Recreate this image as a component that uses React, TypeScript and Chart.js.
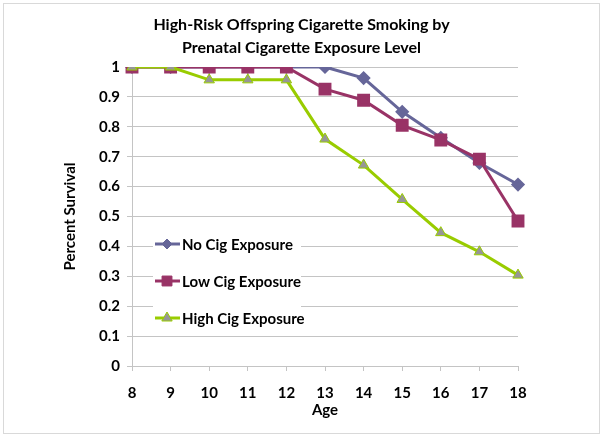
import React, { useEffect, useRef } from 'react';
import { Chart, registerables } from 'chart.js';

Chart.register(...registerables);

const ages = ['8', '9', '10', '11', '12', '13', '14', '15', '16', '17', '18'];
const noCig = [1, 1, 1, 1, 1, 1, 0.963, 0.85, 0.763, 0.679, 0.607];
const lowCig = [1, 1, 1, 1, 1, 0.926, 0.889, 0.805, 0.756, 0.692, 0.485];
const highCig = [1, 1, 0.957, 0.957, 0.957, 0.759, 0.672, 0.557, 0.446, 0.382, 0.304];
const seriesNames = ['No Cig Exposure', 'Low Cig Exposure', 'High Cig Exposure'];
const titleLines = ['High-Risk Offspring Cigarette Smoking by', 'Prenatal Cigarette Exposure Level'];
const xTitle = 'Age';
const yTitle = 'Percent Survival';

const FONT = 'Lato, "Open Sans", sans-serif';
const BLUE = '#666699';
const PLUM = '#993366';
const LIME = '#99CC00';
const TRI_FILL = '#969696';
const GRID = '#C4C4C4';

function drawMarker(ctx: CanvasRenderingContext2D, kind: string, x: number, y: number, r: number, fill: string, stroke: string) {
  ctx.save();
  ctx.beginPath();
  if (kind === 'rectRot') {
    ctx.moveTo(x, y - r); ctx.lineTo(x + r, y); ctx.lineTo(x, y + r); ctx.lineTo(x - r, y); ctx.closePath();
  } else if (kind === 'rect') {
    const s = r * Math.SQRT1_2;
    ctx.rect(x - s, y - s, 2 * s, 2 * s);
  } else {
    const h = r * 1.5;
    const w = r * Math.sqrt(3) / 2;
    ctx.moveTo(x, y - h * 2 / 3); ctx.lineTo(x + w, y + h / 3); ctx.lineTo(x - w, y + h / 3); ctx.closePath();
  }
  ctx.fillStyle = fill; ctx.fill();
  ctx.lineWidth = 1; ctx.strokeStyle = stroke; ctx.stroke();
  ctx.restore();
}

const framePlugin = {
  id: 'frame',
  beforeDraw(chart: any) {
    const ctx = chart.ctx as CanvasRenderingContext2D;
    ctx.save();
    ctx.fillStyle = '#ffffff';
    ctx.fillRect(0, 0, chart.width, chart.height);
    ctx.strokeStyle = '#D9D9D9';
    ctx.lineWidth = 1;
    ctx.strokeRect(3.5, 3.5, chart.width - 7, chart.height - 7);
    ctx.fillStyle = '#000';
    ctx.font = `bold 16px ${FONT}`;
    ctx.textAlign = 'center';
    ctx.textBaseline = 'middle';
    titleLines.forEach((t, i) => ctx.fillText(t, chart.width / 2, 25 + i * 23));
    ctx.restore();
  },
};

const legendPlugin = {
  id: 'customLegend',
  afterDatasetsDraw(chart: any) {
    const ctx = chart.ctx as CanvasRenderingContext2D;
    const ds = chart.data.datasets;
    ctx.save();
    ctx.fillStyle = '#ffffff';
    ctx.fillRect(153, 234, 148, 94);
    ctx.font = `bold 15px ${FONT}`;
    ctx.textAlign = 'left';
    ctx.textBaseline = 'middle';
    ds.forEach((d: any, i: number) => {
      const y = 244 + i * 37;
      ctx.strokeStyle = d.borderColor;
      ctx.lineWidth = 3;
      ctx.beginPath();
      ctx.moveTo(155, y);
      ctx.lineTo(180, y);
      ctx.stroke();
      drawMarker(ctx, d.pointStyle, 167, y, d.pointRadius, d.pointBackgroundColor, d.pointBorderColor);
      ctx.fillStyle = '#000';
      ctx.fillText(d.label, 182, y + 1);
    });
    ctx.restore();
  },
};

export default function App() {
  const ref = useRef<HTMLCanvasElement | null>(null);
  useEffect(() => {
    document.body.style.margin = '0';
    const canvas = ref.current!;
    const chart = new Chart(canvas, {
      type: 'line',
      data: {
        labels: ages,
        datasets: [
          {
            label: seriesNames[0], data: noCig, borderColor: BLUE, backgroundColor: BLUE,
            pointStyle: 'rectRot', pointRadius: 5, pointBackgroundColor: BLUE, pointBorderColor: BLUE,
            borderWidth: 3, order: 3,
          },
          {
            label: seriesNames[1], data: lowCig, borderColor: PLUM, backgroundColor: PLUM,
            pointStyle: 'rect', pointRadius: 7, pointBackgroundColor: PLUM, pointBorderColor: PLUM,
            borderWidth: 3, order: 2,
          },
          {
            label: seriesNames[2], data: highCig, borderColor: LIME, backgroundColor: LIME,
            pointStyle: 'triangle', pointRadius: 6, pointBackgroundColor: TRI_FILL, pointBorderColor: LIME,
            pointBorderWidth: 1, borderWidth: 3, order: 1,
          },
        ] as any,
      },
      options: {
        responsive: false,
        animation: false,
        devicePixelRatio: 1,
        layout: { padding: { top: 67, left: 0, right: 85, bottom: 0 } },
        plugins: { legend: { display: false }, title: { display: false }, tooltip: { enabled: false } },
        scales: {
          x: {
            type: 'category',
            offset: false,
            grid: { display: true, drawOnChartArea: false, drawTicks: true, tickLength: 5, color: GRID },
            border: { display: true, color: GRID, width: 1 },
            ticks: { color: '#000', font: { family: FONT, size: 15, weight: 'bold' }, padding: 13, maxRotation: 0, autoSkip: false },
            title: { display: true, text: xTitle, color: '#000', font: { family: FONT, size: 15, weight: 'bold' }, padding: { top: 0, bottom: 18 } },
            afterFit: (s: any) => { s.height = 71; },
          },
          y: {
            min: 0, max: 1,
            grid: { color: GRID, tickLength: 5, lineWidth: 1 },
            border: { display: true, color: GRID, width: 1 },
            ticks: {
              stepSize: 0.1, color: '#000', padding: 7,
              font: { family: FONT, size: 15, weight: 'bold' },
              callback: (v: any) => String(Math.round(Number(v) * 10) / 10),
            },
            title: { display: true, text: yTitle, color: '#000', font: { family: FONT, size: 15, weight: 'bold' }, padding: { top: 61, bottom: 0 } },
            afterFit: (s: any) => { s.width = 132; },
          },
        },
      } as any,
      plugins: [framePlugin, legendPlugin],
    });
    return () => chart.destroy();
  }, []);
  return (
    <div style={{ position: 'absolute', left: 0, top: 0, width: 603, height: 437 }}>
      <canvas ref={ref} width={603} height={437} style={{ width: 603, height: 437 }} />
    </div>
  );
}
